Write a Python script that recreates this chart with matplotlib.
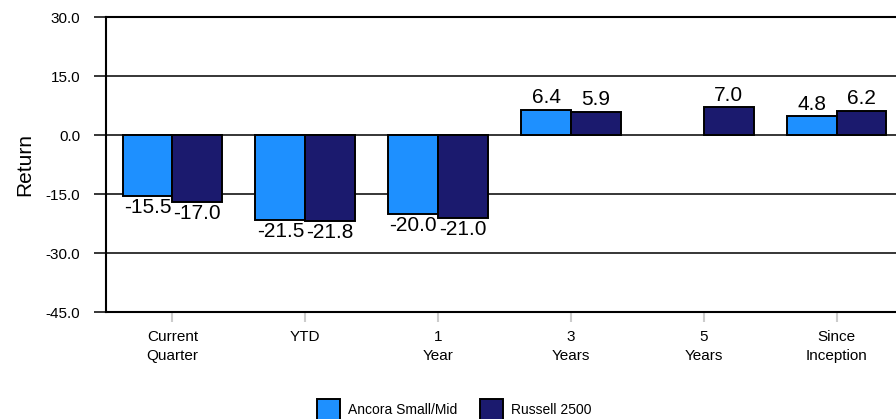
import numpy as np
import matplotlib.pyplot as plt

plt.rcParams['font.family'] = ['Liberation Sans', 'DejaVu Sans']

categories = ['Current\nQuarter', 'YTD', '1\nYear', '3\nYears', '5\nYears', 'Since\nInception']
ancora = [-15.5, -21.5, -20.0, 6.4, np.nan, 4.8]
russell = [-17.0, -21.8, -21.0, 5.9, 7.0, 6.2]
series_names = ['Ancora Small/Mid', 'Russell 2500']
colors = ['#1E90FF', '#1B1A6E']

fig = plt.figure(figsize=(8.96, 4.19), dpi=100)
ax = fig.add_axes([106 / 896, 1 - 312 / 419, 797 / 896, 295 / 419])

x = np.arange(len(categories))
w = 0.375
bars = []
for i, (vals, name, c) in enumerate(zip([ancora, russell], series_names, colors)):
    pos = x - w / 2 + i * w
    b = ax.bar(pos, vals, w, color=c, edgecolor='black', linewidth=1.4,
               label=name, zorder=3)
    bars.append(b)
    for p, v in zip(pos, vals):
        if np.isnan(v):
            continue
        if v < 0:
            ax.text(p, v - 0.6, f'{v:.1f}', ha='center', va='top', fontsize=15, zorder=4)
        else:
            ax.text(p, v + 0.6, f'{v:.1f}', ha='center', va='bottom', fontsize=15, zorder=4)

ax.set_xlim(-0.5, 5.5)
ax.set_ylim(-45, 30)
ax.set_yticks([-45, -30, -15, 0, 15, 30])
ax.set_yticklabels([f'{t:.1f}' for t in [-45, -30, -15, 0, 15, 30]])
for g in [-30, -15, 0, 15]:
    ax.axhline(g, color='black', linewidth=1.1, zorder=1)

ax.set_xticks(x)
ax.set_xticklabels(categories, linespacing=1.45)
ax.tick_params(axis='x', colors='#cccccc', length=7, width=1.5, pad=6, labelcolor='black',
               labelsize=11)
ax.tick_params(axis='y', length=8.6, width=1.1, pad=10, labelsize=11)

for s in ['left', 'top', 'bottom', 'right']:
    ax.spines[s].set_linewidth(1.5)

ax.set_ylabel('Return', fontsize=15, labelpad=8)

fig.legend(handles=bars, labels=series_names, loc='upper center', ncol=2,
           bbox_to_anchor=(0.507, 1 - 386 / 419), frameon=False, fontsize=10,
           handlelength=1.65, handleheight=2.0, columnspacing=1.6, handletextpad=0.6)

fig.savefig('out.png', dpi=100)
